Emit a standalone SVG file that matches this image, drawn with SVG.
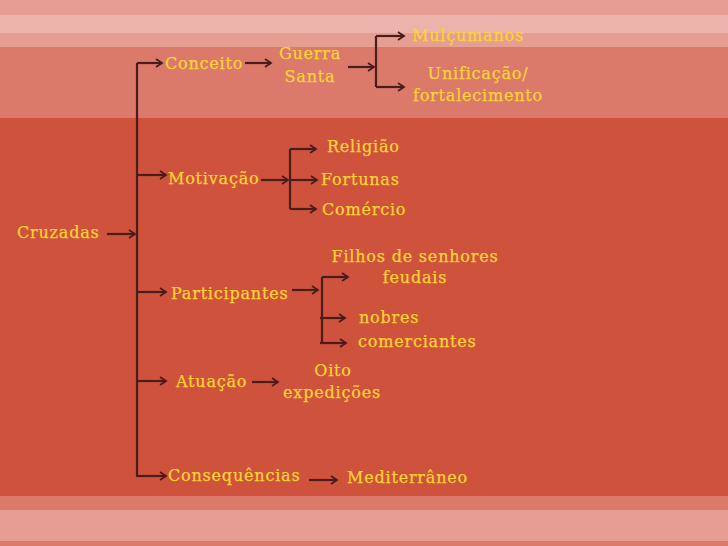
<svg xmlns="http://www.w3.org/2000/svg" width="728" height="546" viewBox="0 0 728 546">
<defs>
<style>
.t{font-family:"DejaVu Serif","Liberation Serif",serif;font-size:16px;fill:#FCD435;stroke:#FCD435;stroke-width:0.25px;letter-spacing:0.8px}
.m{text-anchor:middle}
.c{fill:none;stroke:#4A1C1C;stroke-width:2.2}
.a{marker-end:url(#ah)}
</style>
<marker id="ah" markerUnits="userSpaceOnUse" markerWidth="12" markerHeight="12" refX="7" refY="5" orient="auto">
<path d="M1,1 L7,5 L1,9" fill="none" stroke="#4A1C1C" stroke-width="1.8"/>
</marker>
</defs>
<g id="background">
<rect x="0" y="0" width="728" height="546" fill="#E69E93"/>
<rect x="0" y="15" width="728" height="18" fill="#EBB3A9"/>
<rect x="0" y="47" width="728" height="71" fill="#DB7A6B"/>
<rect x="0" y="118" width="728" height="378" fill="#CF533C"/>
<rect x="0" y="496" width="728" height="14" fill="#DB7A6B"/>
<rect x="0" y="541" width="728" height="5" fill="#DB7A6B"/>
</g>
<g id="connectors">
<path class="c" d="M137,63 V477"/>
<path class="c a" d="M107,234 H135"/>
<path class="c a" d="M137,63 H162"/>
<path class="c a" d="M137,175 H166"/>
<path class="c a" d="M137,292 H166"/>
<path class="c a" d="M137,381 H166"/>
<path class="c a" d="M137,476 H166"/>
<path class="c a" d="M245,63 H271"/>
<path class="c a" d="M348,67 H374"/>
<path class="c" d="M376,36 V87"/>
<path class="c a" d="M376,36 H404"/>
<path class="c a" d="M376,87 H404"/>
<path class="c a" d="M261,180 H288"/>
<path class="c" d="M290,149 V209"/>
<path class="c a" d="M290,149 H316"/>
<path class="c a" d="M290,180 H317"/>
<path class="c a" d="M290,209 H316"/>
<path class="c a" d="M292,290 H318"/>
<path class="c" d="M322,277 V343"/>
<path class="c a" d="M322,277 H348"/>
<path class="c a" d="M320,318 H345"/>
<path class="c a" d="M320,343 H346"/>
<path class="c a" d="M252,382 H278"/>
<path class="c a" d="M309,480 H337"/>
</g>
<g id="cruzadas"><text class="t" x="17" y="238">Cruzadas</text></g>
<g id="conceito"><text class="t" x="165" y="69">Conceito</text></g>
<g id="guerra-santa"><text class="t m" x="310" y="59">Guerra</text><text class="t m" x="310" y="82">Santa</text></g>
<g id="mulcumanos"><text class="t" x="412" y="41">Mulçumanos</text></g>
<g id="unificacao"><text class="t m" x="478" y="79">Unificação/</text><text class="t m" x="478" y="101">fortalecimento</text></g>
<g id="motivacao"><text class="t" x="168" y="184">Motivação</text></g>
<g id="religiao"><text class="t" x="327" y="152">Religião</text></g>
<g id="fortunas"><text class="t" x="321" y="185">Fortunas</text></g>
<g id="comercio"><text class="t" x="322" y="215">Comércio</text></g>
<g id="participantes"><text class="t" x="171" y="299">Participantes</text></g>
<g id="filhos"><text class="t m" x="415" y="262">Filhos de senhores</text><text class="t m" x="415" y="283">feudais</text></g>
<g id="nobres"><text class="t" x="359" y="323">nobres</text></g>
<g id="comerciantes"><text class="t" x="358" y="347">comerciantes</text></g>
<g id="atuacao"><text class="t" x="176" y="387">Atuação</text></g>
<g id="oito"><text class="t m" x="333" y="376">Oito</text><text class="t m" x="332" y="398">expedições</text></g>
<g id="consequencias"><text class="t" x="168" y="481">Consequências</text></g>
<g id="mediterraneo"><text class="t" x="347" y="483">Mediterrâneo</text></g>
</svg>
